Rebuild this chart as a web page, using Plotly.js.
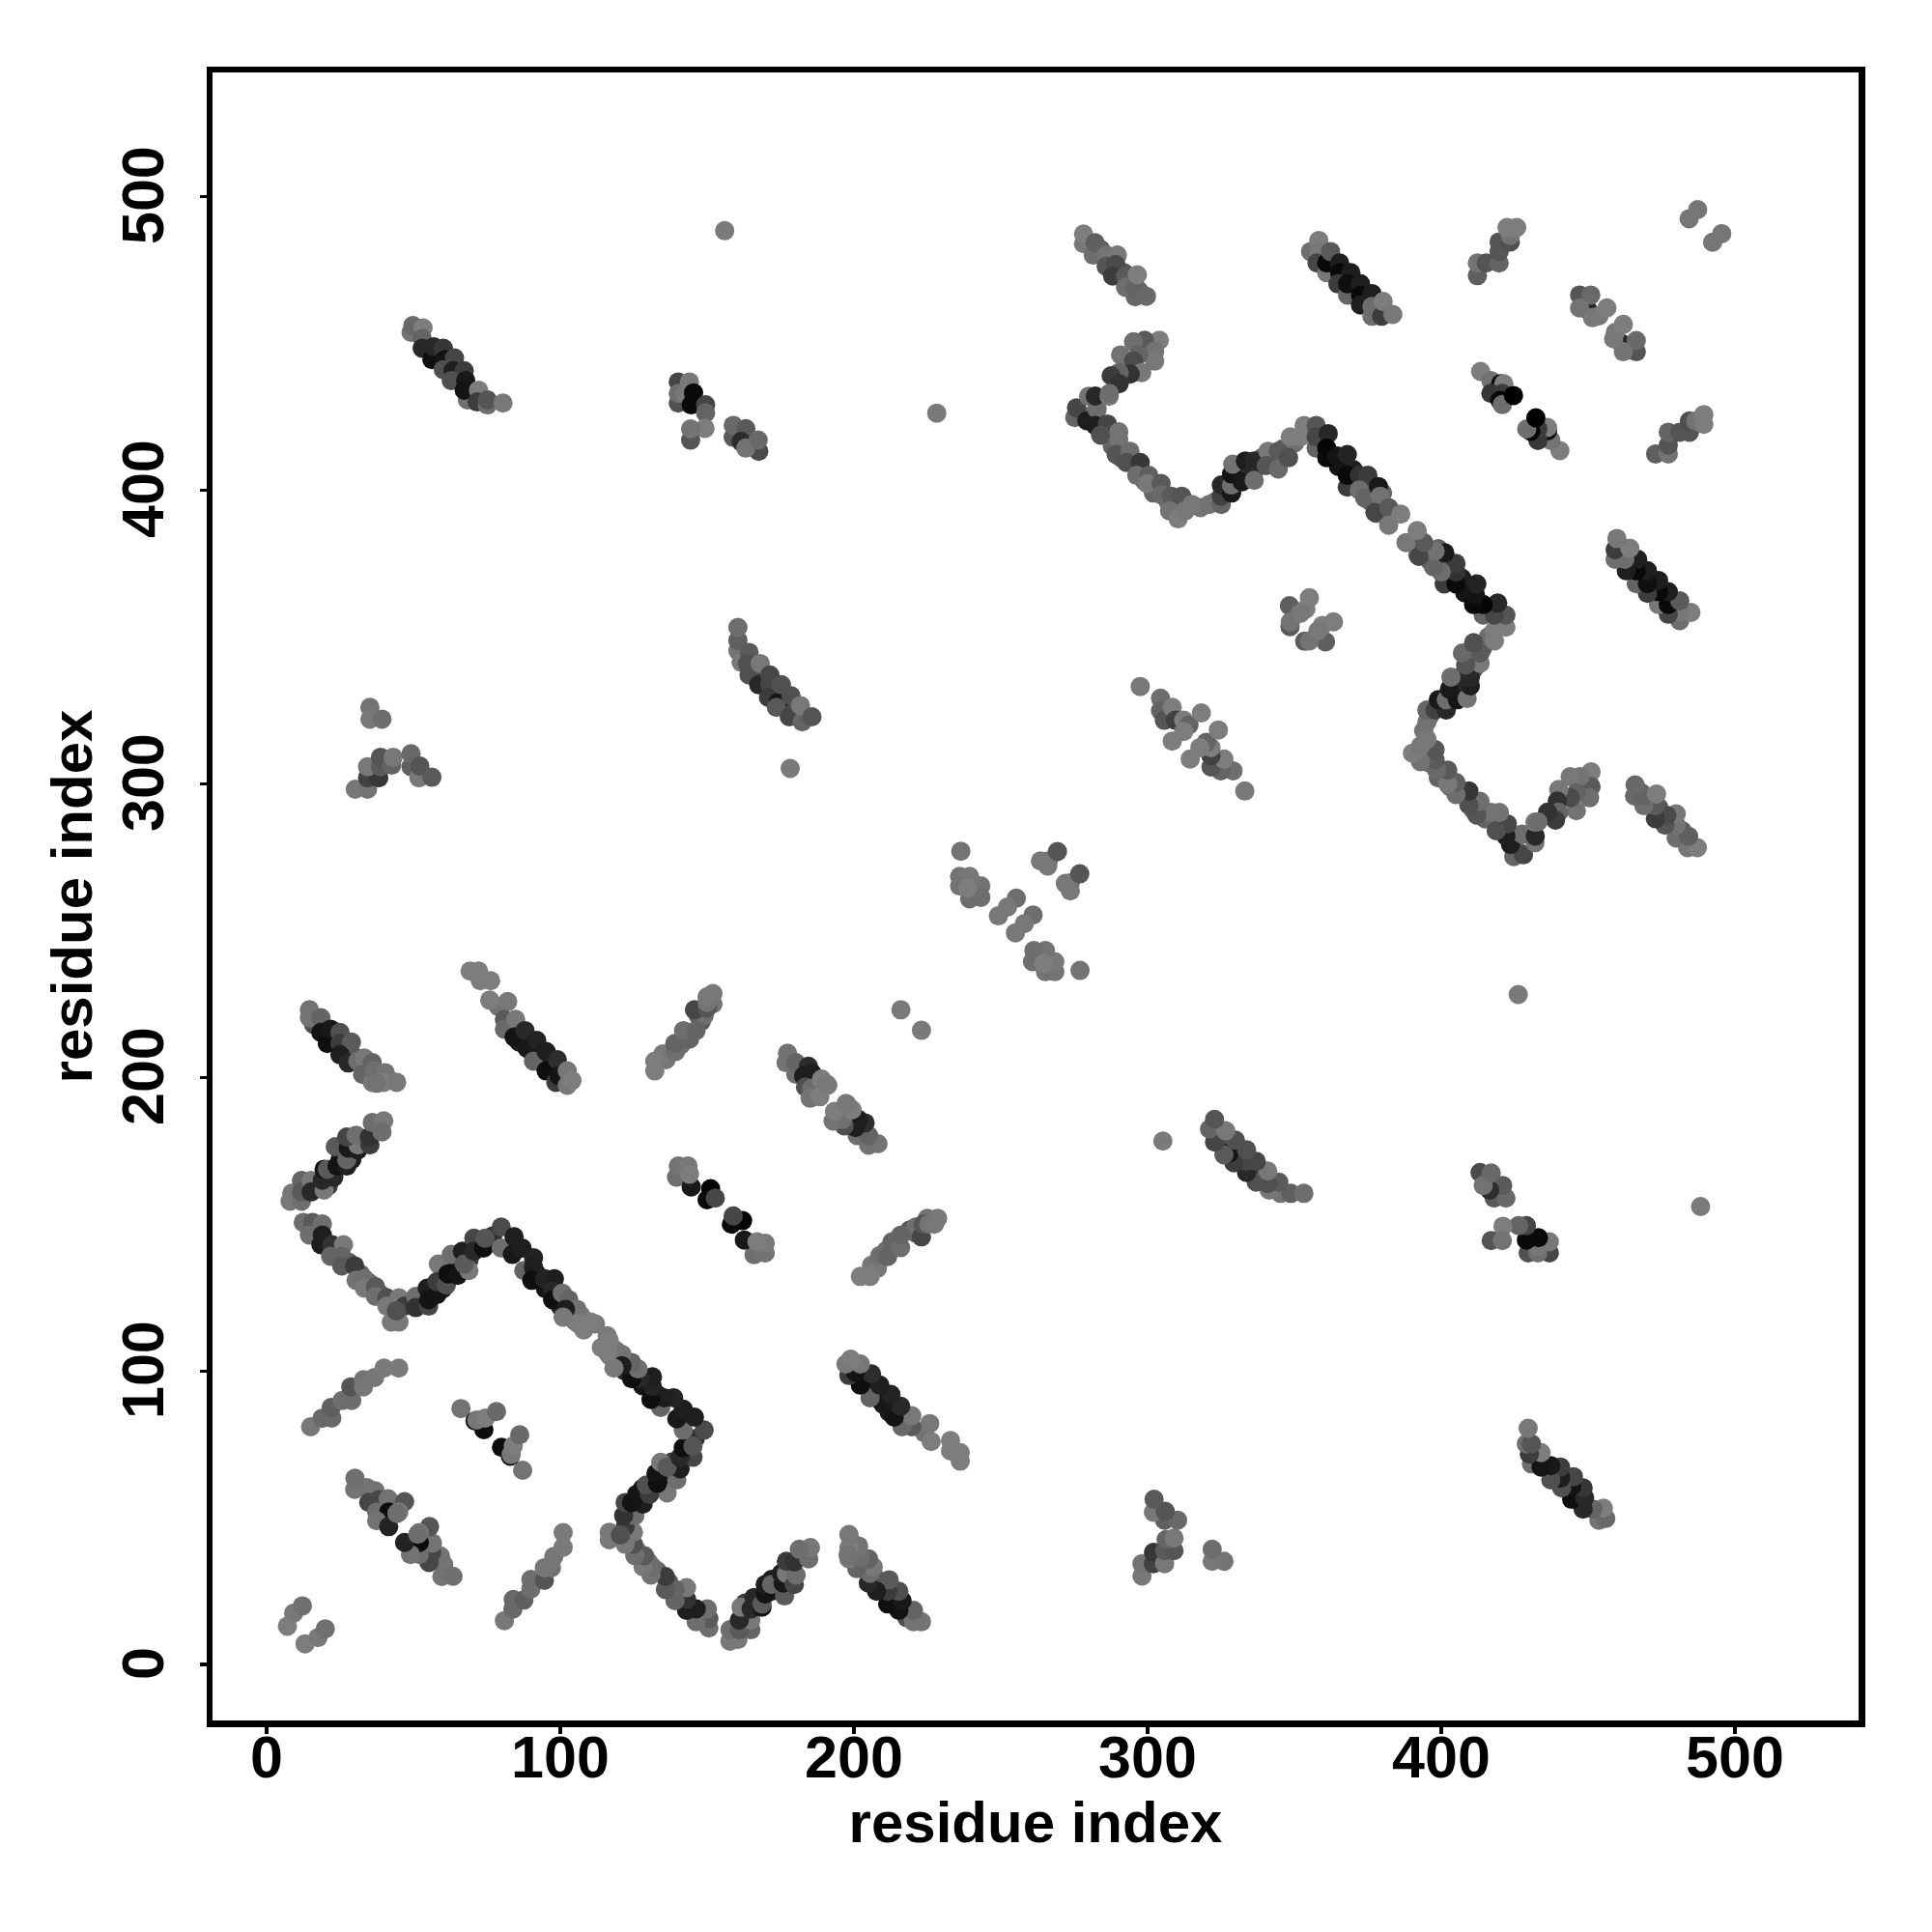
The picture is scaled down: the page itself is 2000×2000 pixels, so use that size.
<!DOCTYPE html>
<html>
<head>
<meta charset="utf-8">
<script src="https://cdn.plot.ly/plotly-3.0.1.min.js"></script>
<style>html,body{margin:0;padding:0;background:#fff}</style>
</head>
<body>
<div id="chart" style="width:2000px;height:2000px"></div>
<script>
const tickValues = [0, 100, 200, 300, 400, 500];
const tickLabels = ['0', '100', '200', '300', '400', '500'];
const axisLabel = 'residue index';

// Contacts that sit mostly hidden under the others and thicken the strips.
const iExtra = [17, 23, 28, 32, 35, 39, 43, 33, 37, 29, 25, 17, 21, 53, 60, 64, 69, 72, 77, 95, 92, 100, 104, 107, 112, 105, 103, 16, 22, 27, 30, 34, 38, 42, 79, 83, 86, 90, 93, 97, 101, 136, 141, 144, 148, 147, 152, 149, 135, 166, 169, 173, 176, 180, 277, 281, 285, 288, 291, 295, 299, 302, 307, 310, 318, 323, 327, 331, 335, 339, 343, 346, 350, 355, 365, 370, 368, 373, 375, 380, 384, 376, 378, 284, 288, 292, 293, 297, 360, 363, 367, 371, 375];
const jExtra = [148, 141, 137, 133, 130, 126, 122, 178, 182, 172, 172, 163, 163, 123, 128, 136, 138, 143, 146, 128, 133, 122, 120, 119, 116, 117, 119, 218, 213, 210, 207, 203, 200, 199, 224, 217, 212, 209, 206, 204, 200, 206, 211, 213, 219, 221, 225, 221, 208, 338, 336, 331, 327, 325, 426, 425, 420, 415, 411, 410, 403, 399, 396, 394, 394, 396, 402, 405, 408, 411, 410, 414, 416, 420, 408, 407, 401, 402, 402, 399, 392, 396, 392, 482, 478, 474, 470, 468, 479, 476, 472, 468, 464];
const gExtra = [90, 60, 90, 100, 110, 110, 100, 40, 100, 30, 30, 90, 60, 40, 30, 30, 60, 40, 50, 20, 25, 40, 110, 120, 122, 120, 110, 80, 30, 50, 90, 100, 115, 122, 115, 100, 30, 30, 35, 30, 90, 118, 110, 100, 90, 100, 115, 110, 120, 90, 60, 60, 70, 80, 90, 110, 80, 100, 100, 90, 110, 100, 110, 115, 115, 105, 40, 40, 50, 90, 100, 90, 110, 100, 20, 30, 60, 70, 90, 100, 120, 100, 115, 95, 100, 90, 100, 105, 90, 25, 25, 25, 30];

const iA = [7.1, 9.2, 12.2];
const jA = [13.1, 17.5, 20];
const gA = [125, 120, 112];

const iB = [30, 34.1, 37, 30.1, 34.8, 38.3, 41.4, 47, 37.5, 41.6, 45, 37.5, 41.6, 44.4];
const jB = [59.7, 60.3, 59.2, 63.5, 55.3, 56.2, 56.5, 55.5, 52, 52, 52, 49, 47, 51.5];
const gB = [115, 115, 115, 112, 70, 70, 115, 85, 110, 12, 120, 115, 35, 110];

const iC = [15, 18.9, 22.2, 22, 25.8, 29, 28.7, 33, 33, 36.8, 40, 45];
const jC = [81, 83.9, 84, 87.6, 90, 90, 94.6, 97, 94.6, 97.8, 101, 101];
const gC = [120, 105, 105, 95, 110, 110, 85, 115, 118, 118, 122, 122];

const iD = [66.2, 74, 71, 71.6, 74.5, 78.3];
const jD = [87.2, 80, 83, 83.3, 84, 86.2];
const gD = [115, 12, 20, 120, 125, 105];

const iE = [8.6, 8, 11.9, 11.9, 11.9, 15.2, 15.2, 19.6, 19, 22.9, 19.6, 20.7, 24, 27.3, 27.3, 23.4, 27.8, 31.1, 31.1, 27.3, 30.5, 35.2, 35, 36, 39.9, 39.3];
const jE = [160.5, 157.8, 157.8, 164.9, 161, 164.9, 161, 161.6, 165, 166, 168.7, 168.7, 169.8, 169.8, 172, 176.4, 175.9, 175.3, 177, 179.7, 180.3, 177, 179.7, 184.6, 185.2, 181.4];
const gE = [120, 120, 110, 100, 90, 120, 40, 120, 40, 40, 20, 90, 20, 30, 100, 90, 25, 30, 120, 70, 110, 60, 50, 110, 120, 110];

const iF = [12.5, 15.7, 19, 14.6, 18.5, 19, 22.3, 26.2, 21.8, 25.6, 25.6, 30, 30.5, 33.3, 33.3, 37.1, 37.1, 41, 41, 45.1, 47, 45.1, 42.5, 44.2];
const jF = [150.6, 150.6, 150.1, 146.3, 143, 146.3, 143, 143, 139.1, 139.1, 135.8, 135.8, 130.9, 131.4, 128.2, 128.7, 125.4, 124.9, 122.1, 124.9, 122.1, 116.7, 116.7, 120.5];
const gF = [110, 90, 110, 110, 30, 30, 50, 120, 100, 100, 90, 60, 115, 110, 120, 90, 110, 80, 120, 120, 60, 120, 120, 80];

const iG = [50.8, 50.8, 55.2, 54.7, 55.2, 58, 58.5, 58, 61.2, 61.8, 62.9, 65.1, 68.9, 66.7, 67.3, 70.6, 70.6, 73.9, 74.4, 79.9, 79.9];
const jG = [125.4, 121.6, 122.1, 128.2, 124.3, 126, 136.4, 130.4, 129.3, 133.1, 139.7, 132.6, 134.2, 140.8, 136.4, 145.2, 140.8, 141.9, 145.2, 141.9, 149];
const gG = [110, 50, 70, 30, 20, 20, 120, 60, 80, 15, 110, 20, 120, 30, 90, 70, 40, 15, 85, 110, 75];

const iH = [87.6, 84.3, 83.7, 87, 90.9, 90.9, 90.3, 94.7, 98, 97.4, 97.4, 100.7, 102.9, 105.7, 101.8, 101, 110, 106.2, 108, 110.6];
const jH = [134.2, 145.7, 139.7, 141.9, 138.6, 135.3, 130.9, 131.4, 131.4, 127.1, 124.3, 126.5, 124.3, 121, 121, 118.3, 116.7, 116.1, 114, 116.6];
const gH = [100, 30, 25, 30, 35, 30, 15, 35, 30, 40, 15, 110, 100, 115, 30, 120, 125, 125, 125, 125];

const iK = [14.6, 14.6, 18.5, 18.5, 20.7, 21.8, 25, 25, 28.9, 25, 27.8, 31.1, 33.3, 36, 32.7, 36, 36.6, 40.4, 39.9, 44.3, 37.5];
const jK = [223, 220.3, 220.3, 215.3, 211.5, 216.4, 215.3, 211.5, 212, 207.7, 204.9, 205.5, 206.6, 205, 201, 198.3, 202.2, 201.6, 198.3, 198.3, 198];
const gK = [115, 115, 100, 20, 15, 25, 80, 60, 90, 30, 40, 110, 120, 100, 100, 120, 110, 115, 125, 120, 115];

const iL = [69.3, 72.2, 72.8, 76.3, 76, 82.1, 81, 81, 84.8, 84.3, 88, 88.7, 92, 90.9, 95.2, 95.2, 99, 98.5, 99.6, 102.4, 102.4, 104];
const jL = [236.2, 236.2, 232.9, 232.9, 226.3, 225.8, 219.7, 216.4, 219.7, 213.7, 215.9, 209.9, 212.6, 205.5, 208.8, 202.2, 206, 198.3, 200.5, 202.2, 197.3, 198.9];
const gL = [125, 125, 125, 125, 125, 120, 90, 105, 120, 20, 40, 25, 35, 100, 30, 15, 45, 60, 20, 120, 120, 125];

const iM = [132.2, 132.2, 139.3, 139, 142, 146.2, 145.7, 150, 150, 150, 152];
const jM = [202.2, 205.5, 208.8, 211.5, 215.9, 215.9, 223, 223.6, 225.5, 227.4, 228.5];
const gM = [125, 125, 110, 100, 110, 100, 70, 85, 115, 120, 120];

const iN = [139.6, 140.2, 143.5, 144.6, 144, 151.2, 150, 152.8];
const jN = [166, 169.8, 169.8, 162.7, 167, 162.1, 158.3, 158.9];
const gN = [110, 115, 120, 25, 125, 5, 10, 70];

const iP = [176.9, 177.4, 180.2, 180.2, 184.5, 182.9, 185.7, 183.5, 185.6, 185.1, 188.4, 189, 191.1, 190.7];
const jP = [205, 208.2, 201.1, 205, 203.8, 200.5, 201.5, 196.7, 196.2, 192.9, 193.4, 199.4, 197.3, 197.7];
const gP = [115, 115, 110, 100, 45, 30, 30, 80, 110, 115, 125, 125, 125, 120];

const iQ = [216, 156, 228.2, 178.3];
const jQ = [223, 488.3, 426.2, 305.2];
const gQ = [122, 122, 122, 122];

const iR = [49.2, 49.8, 53.3, 53, 53, 56.3, 56.9, 60.2, 60.7, 64, 60.2, 63.5, 67.3, 62.9, 67.8, 68.4, 67.3, 72.2, 71.7, 75.2, 75.2, 80.5];
const jR = [453.7, 456, 455.2, 451.6, 448.3, 444.4, 448.8, 448.3, 444.4, 445, 441, 440.6, 440.6, 437.3, 437.3, 430.7, 434, 434, 430, 429, 430.7, 429.6];
const gR = [115, 105, 125, 100, 40, 15, 40, 55, 20, 70, 80, 30, 60, 80, 25, 110, 20, 125, 60, 110, 85, 120];

const iS = [140.2, 140.2, 140.2, 144, 142.4, 144.6, 145.4, 149.5, 149.5, 149.3, 144.4, 144.4, 158.9, 158.9, 163.2, 167.6, 161.6, 163.2, 167.4];
const jS = [436.8, 429.6, 432.9, 436.8, 432.9, 429, 433.1, 429, 426.3, 421, 417, 420.8, 418, 422, 420.9, 413.2, 416.5, 414.3, 417];
const gS = [70, 80, 110, 120, 120, 10, 10, 70, 100, 125, 85, 115, 90, 105, 90, 75, 45, 115, 105];

const iT = [35.2, 35.2, 39.3, 30.2, 34.4, 34.4, 38.2, 34.4, 38.8, 38.8, 42.6, 43.1, 49.2, 49.2, 51.9, 52.2, 56.3];
const jT = [326, 322, 322, 298.1, 298.1, 302, 302, 305.8, 305.8, 309, 306.3, 309, 305.8, 310.2, 302, 306, 302.2];
const gT = [115, 120, 110, 120, 115, 65, 55, 120, 90, 85, 100, 120, 95, 105, 120, 85, 90];

const iU = [160.5, 160.5, 160.5, 161.6, 164.3, 163.8, 164.3, 168.1, 167.6, 171.4, 171.4, 170.9, 174.2, 173.6, 175.3, 178.6, 178, 182.4, 181.8, 185.7];
const jU = [345.3, 348.8, 353.2, 341.4, 344.7, 340.9, 337, 340.9, 333.7, 337, 333.7, 329.4, 327.7, 326, 333.7, 329.9, 322.8, 321.1, 326.6, 322.8];
const gU = [115, 95, 110, 120, 90, 80, 80, 120, 40, 70, 70, 60, 20, 90, 80, 80, 70, 100, 120, 85];

const iV = [278.2, 278.2, 281.5, 282.1, 285.9, 289.7, 285.9, 289.2, 288.1, 292.5, 292.5, 295.8, 295.8, 296.5, 299.6];
const jV = [483.9, 487.2, 480, 484.2, 480, 480, 476.2, 476.8, 472.9, 472.9, 469, 465.8, 469, 473.3, 466];
const gV = [120, 125, 110, 95, 115, 120, 85, 75, 60, 90, 110, 105, 100, 125, 105];

const iW = [355.5, 358.3, 358.3, 357.7, 361, 361, 362.3, 365.4, 365.4, 369.2, 364.8, 368.1, 368.1, 372.5, 372.5, 372.5, 376.4, 376.4, 376.4, 379.7, 380.2, 383.5];
const jW = [481.2, 485, 481.2, 477.3, 474, 477.3, 481.2, 477.3, 474, 474, 470.2, 466.4, 470.2, 470.2, 466.4, 463, 466.9, 459.2, 462.5, 459.2, 464.2, 459.8];
const gW = [110, 125, 120, 70, 120, 10, 90, 30, 10, 30, 60, 100, 15, 30, 10, 30, 30, 110, 110, 60, 125, 120];

const iX = [412.3, 412.3, 415.3, 419.7, 419.7, 419.7, 423.5, 423.5, 422.4, 425.7];
const jX = [473, 477.3, 477.3, 477.3, 481.2, 484.5, 484.5, 486.7, 489.4, 489.4];
const gX = [95, 115, 85, 100, 85, 85, 80, 115, 125, 125];

const iY = [413.4, 416.9, 420.2, 421.3, 416.9, 420.8, 420, 420.8, 424.6];
const jY = [440.4, 437.3, 436.2, 436.2, 432.9, 432.9, 430.5, 429.1, 432.2];
const gY = [125, 115, 10, 125, 55, 60, 8, 110, 0];

const iZ = [447.1, 449.9, 450.9, 447.1, 451.5, 453.7, 456.4, 484.4, 487.3];
const jZ = [466.4, 461.4, 466.4, 462, 458.7, 459.3, 462, 492.4, 495.5];
const gZ = [85, 40, 105, 115, 120, 120, 125, 118, 118];

const iAA = [275.2, 275.8, 279.3, 279.9, 282.8, 282.2, 286.9, 282.2, 286.3, 284, 290.2, 290.2, 289.3, 294, 292.8, 297.5, 296.3, 300.4, 299.9, 304.6, 304.6, 308.1, 311.6, 307.5, 310.4, 312.8, 315.1, 321, 325.1, 325.1, 325.1, 328.6, 328.6, 328.6, 329, 332.2, 333.3, 336.3, 336.3, 336.3, 341, 340.4, 344.5, 344.5, 348, 348.6, 353.3, 352.1];
const jAA = [424.7, 428, 423.6, 431.9, 427.5, 432, 431.9, 422, 422.5, 418.7, 419.8, 417, 412.1, 413.2, 409.4, 409.4, 405, 405, 402.2, 402.2, 398.4, 397.9, 397.9, 392.9, 390.2, 392.9, 395.1, 395.1, 395.1, 397.9, 401.7, 399, 401.7, 405.5, 408.8, 402.8, 409.9, 409.9, 406.6, 403.3, 413.2, 408.3, 413.2, 407.2, 411, 418.1, 422, 418.1];
const gAA = [100, 70, 30, 115, 110, 40, 120, 30, 70, 80, 115, 115, 85, 110, 80, 55, 110, 95, 120, 90, 105, 90, 85, 115, 125, 120, 120, 115, 100, 65, 40, 25, 110, 20, 115, 25, 30, 40, 40, 110, 120, 85, 90, 105, 80, 125, 125, 125];

const iAB = [357.4, 357.4, 357.4, 361.5, 361, 361, 364.5, 368, 368, 372.1, 375, 372.1, 373.9, 378.6, 379.2, 377.4, 382.1, 382.1, 386.2];
const jAB = [414.3, 422, 418.1, 419.2, 414.3, 411, 411.6, 412.1, 405, 405, 405, 400, 397.3, 401.2, 397.9, 392.4, 394, 388, 391.8];
const gAB = [100, 85, 70, 40, 5, 10, 20, 35, 10, 50, 60, 110, 100, 25, 115, 70, 90, 120, 125];

const iAC = [304, 299, 295.2, 302.4, 302.4, 296.9, 290.8, 295.2, 298, 294.1, 290.3, 287.6, 290.3, 287];
const jAC = [451, 451, 450.5, 447.2, 443.9, 446, 446, 443.9, 440, 439.5, 440, 438.9, 436.2, 432.9];
const gAC = [125, 90, 110, 115, 120, 100, 115, 75, 120, 50, 100, 60, 50, 110];

const iAD = [297.5, 304.4, 304.4, 305.7, 308.4, 308.4, 309.5, 312.3, 314.1, 318.3, 312.3];
const jAD = [333.1, 329.1, 324.9, 321.6, 326, 314.5, 321.6, 321.6, 320, 324.1, 317.8];
const gAD = [120, 110, 100, 85, 125, 125, 65, 125, 100, 125, 125];

const iAE = [236.4, 236, 239.4, 236, 243.2, 239.4, 243.2, 238.8, 255.3, 252.3, 249.2, 266.2, 263.5, 266, 269.3];
const jAE = [277, 268.4, 268.4, 265.2, 265.2, 260.8, 261.3, 264.6, 261, 258, 255, 273.7, 273.7, 272, 276.9];
const gAE = [115, 115, 120, 115, 115, 110, 110, 125, 110, 120, 120, 115, 120, 120, 85];

const iAF = [348.3, 348.5, 348.6, 355.1, 353.9, 352];
const jAF = [360.6, 353.5, 355.1, 363.3, 359.5, 358];
const gAF = [95, 90, 115, 125, 125, 120];

const allI = [iExtra, iA, iB, iC, iD, iE, iF, iG, iH, iK, iL, iM, iN, iP, iQ, iR, iS, iT, iU, iV, iW, iX, iY, iZ, iAA, iAB, iAC, iAD, iAE, iAF].flat();
const allJ = [jExtra, jA, jB, jC, jD, jE, jF, jG, jH, jK, jL, jM, jN, jP, jQ, jR, jS, jT, jU, jV, jW, jX, jY, jZ, jAA, jAB, jAC, jAD, jAE, jAF].flat();
const allG = [gExtra, gA, gB, gC, gD, gE, gF, gG, gH, gK, gL, gM, gN, gP, gQ, gR, gS, gT, gU, gV, gW, gX, gY, gZ, gAA, gAB, gAC, gAD, gAE, gAF].flat();

// A contact map is symmetric: every pair (i, j) also appears as (j, i).
const xs = allI.concat(allJ);
const ys = allJ.concat(allI);
const shades = allG.concat(allG).map(v => `rgb(${v},${v},${v})`);

const tickFont = {family: '"Liberation Sans", Arial, sans-serif', size: 61, weight: 700, color: '#000'};
const titleFont = {family: '"Liberation Sans", Arial, sans-serif', size: 60, weight: 700, color: '#000'};
const axisBase = {
  showgrid: false, zeroline: false, showline: true, mirror: true,
  linecolor: '#000', linewidth: 6.5, ticks: 'outside', ticklen: 7, tickwidth: 3.5, tickcolor: '#000',
  tickmode: 'array', tickvals: tickValues, ticktext: tickLabels, tickfont: tickFont
};

Plotly.newPlot('chart', [{
  type: 'scatter', mode: 'markers', x: xs, y: ys, hoverinfo: 'skip',
  marker: {size: 20, color: shades, opacity: 1, line: {width: 0}}
}], {
  width: 2000, height: 2000,
  paper_bgcolor: '#fff', plot_bgcolor: '#fff', showlegend: false,
  margin: {l: 219.6, r: 76, t: 74.5, b: 219, pad: 0},
  xaxis: Object.assign({}, axisBase, {
    range: [-18.4, 542.1], automargin: false, ticklabelstandoff: -28,
    title: {text: axisLabel, font: titleFont, standoff: 14}
  }),
  yaxis: Object.assign({}, axisBase, {
    range: [-19, 542.2], automargin: false, tickangle: -90, ticklabelstandoff: 13, ticklabelshift: 8,
    title: {text: axisLabel, font: titleFont, standoff: 1}
  })
}, {displayModeBar: false, staticPlot: true});
</script>
</body>
</html>
